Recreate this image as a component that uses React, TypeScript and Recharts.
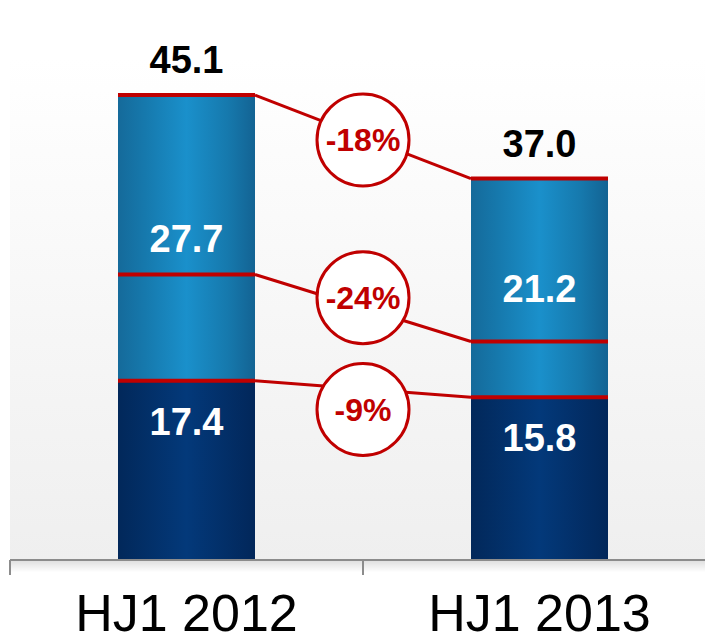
import { ComposedChart, Bar, XAxis, YAxis, CartesianGrid, ReferenceLine, ReferenceDot, ReferenceArea, LabelList } from 'recharts'

const periods = ['HJ1 2012', 'HJ1 2013']
const lowerPart = [17.4, 15.8]
const upperPart = [27.7, 21.2]
const totals = [45.1, 37.0]
const changes = ['-18%', '-24%', '-9%']

const data = periods.map((period, i) => ({
  period,
  slot: i + 0.5,
  lower: lowerPart[i],
  upper: upperPart[i],
  total: totals[i],
}))

// connector levels, top to bottom (middle one sits at the segment's own value, as in the slide)
const levels = [totals, upperPart, lowerPart]

const RED = '#c00000'
const FONT = '"Liberation Sans", Arial, sans-serif'
const W = 709
const H = 634
const MARGIN = { top: 50, right: 1, bottom: 0, left: 2 }
const PLOT_W = W - MARGIN.left - MARGIN.right
const BAR = 137
const HALF = (BAR / 2) * (2 / PLOT_W) // half a bar, in units of the hidden [0, 2] axis
const bubbleShift = [-0.3, 1, -2]

function LowerLabel(props: any) {
  const { x, y, width, value } = props
  return (
    <text x={x + width / 2} y={y + 54} textAnchor="middle" fill="#fff" fontSize={38} fontWeight={700} fontFamily={FONT}>
      {Number(value).toFixed(1)}
    </text>
  )
}

function UpperLabel(props: any) {
  const { x, y, width, height, value } = props
  return (
    <text x={x + width / 2} y={y + height / 2 + 14} textAnchor="middle" fill="#fff" fontSize={38} fontWeight={700} fontFamily={FONT}>
      {Number(value).toFixed(1)}
    </text>
  )
}

function TotalLabel(props: any) {
  const { x, y, width, value } = props
  return (
    <text x={x + width / 2} y={y - 22} textAnchor="middle" fill="#000" fontSize={38} fontWeight={700} fontFamily={FONT}>
      {Number(value).toFixed(1)}
    </text>
  )
}

function PeriodTick({ x, y, payload }: any) {
  return (
    <text x={x} y={y} dy={55} textAnchor="middle" fill="#000" fontSize={52} fontFamily={FONT}>
      {payload.value}
    </text>
  )
}

const NoTick = () => <g />

export default function App() {
  return (
    <div style={{ width: 705, overflow: 'hidden' }}>
      <ComposedChart width={W} height={H} data={data} margin={MARGIN} style={{ fontFamily: FONT }}>
        <defs>
          <linearGradient id="bgGrad" x1="0" y1="0" x2="0" y2="1">
            <stop offset="0%" stopColor="#ffffff" />
            <stop offset="100%" stopColor="#efefef" />
          </linearGradient>
          <linearGradient id="blueGrad" x1="0" y1="0" x2="1" y2="0">
            <stop offset="0%" stopColor="#156a9a" />
            <stop offset="20%" stopColor="#1679ad" />
            <stop offset="50%" stopColor="#1a90cb" />
            <stop offset="80%" stopColor="#1679ad" />
            <stop offset="100%" stopColor="#136393" />
          </linearGradient>
          <linearGradient id="darkGrad" x1="0" y1="0" x2="1" y2="0">
            <stop offset="0%" stopColor="#02285a" />
            <stop offset="50%" stopColor="#03397a" />
            <stop offset="100%" stopColor="#02275a" />
          </linearGradient>
          <linearGradient id="axisShade" x1="0" y1="0" x2="0" y2="1">
            <stop offset="0%" stopColor="#000" stopOpacity={0.13} />
            <stop offset="100%" stopColor="#000" stopOpacity={0} />
          </linearGradient>
        </defs>
        <CartesianGrid horizontal={false} vertical={false} fill="url(#bgGrad)" />
        <XAxis
          xAxisId="a"
          dataKey="slot"
          type="number"
          domain={[0, 2]}
          ticks={[0, 1, 2]}
          interval={0}
          allowDataOverflow
          tick={NoTick}
          tickSize={15}
          height={16}
          axisLine={{ stroke: '#8c8c8c', strokeWidth: 2 }}
          tickLine={{ stroke: '#8c8c8c', strokeWidth: 2 }}
        />
        <XAxis
          xAxisId="b"
          dataKey="period"
          axisLine={false}
          tickLine={false}
          tickSize={0}
          tickMargin={0}
          height={66}
          interval={0}
          tick={<PeriodTick />}
        />
        <YAxis hide domain={[0, 48.7]} allowDataOverflow />
        <ReferenceArea xAxisId="a" x1={0} x2={2} y1={-1.2} y2={0} fill="url(#axisShade)" fillOpacity={1} ifOverflow="visible" />
        <Bar xAxisId="b" dataKey="lower" stackId="s" barSize={BAR} fill="url(#darkGrad)" isAnimationActive={false}>
          <LabelList dataKey="lower" content={<LowerLabel />} />
        </Bar>
        <Bar xAxisId="b" dataKey="upper" stackId="s" barSize={BAR} fill="url(#blueGrad)" isAnimationActive={false}>
          <LabelList dataKey="upper" content={<UpperLabel />} />
          <LabelList dataKey="total" content={<TotalLabel />} />
        </Bar>
        {levels.map((lv, i) => [
          <ReferenceLine
            key={`a${i}`}
            xAxisId="a"
            segment={[{ x: 0.5 - HALF, y: lv[0] }, { x: 0.5 + HALF, y: lv[0] }]}
            stroke={RED}
            strokeWidth={4}
          />,
          <ReferenceLine
            key={`b${i}`}
            xAxisId="a"
            segment={[{ x: 0.5 + HALF, y: lv[0] }, { x: 1.5 - HALF, y: lv[1] }]}
            stroke={RED}
            strokeWidth={3}
          />,
          <ReferenceLine
            key={`c${i}`}
            xAxisId="a"
            segment={[{ x: 1.5 - HALF, y: lv[1] }, { x: 1.5 + HALF, y: lv[1] }]}
            stroke={RED}
            strokeWidth={4}
          />,
        ])}
        {levels.map((lv, i) => (
          <ReferenceDot
            key={`d${i}`}
            xAxisId="a"
            x={1}
            y={(lv[0] + lv[1]) / 2 + bubbleShift[i]}
            r={46}
            fill="#fff"
            stroke={RED}
            strokeWidth={3}
            label={{ value: changes[i], position: 'center', fill: RED, fontSize: 32, fontWeight: 700, fontFamily: FONT }}
          />
        ))}
      </ComposedChart>
    </div>
  )
}
